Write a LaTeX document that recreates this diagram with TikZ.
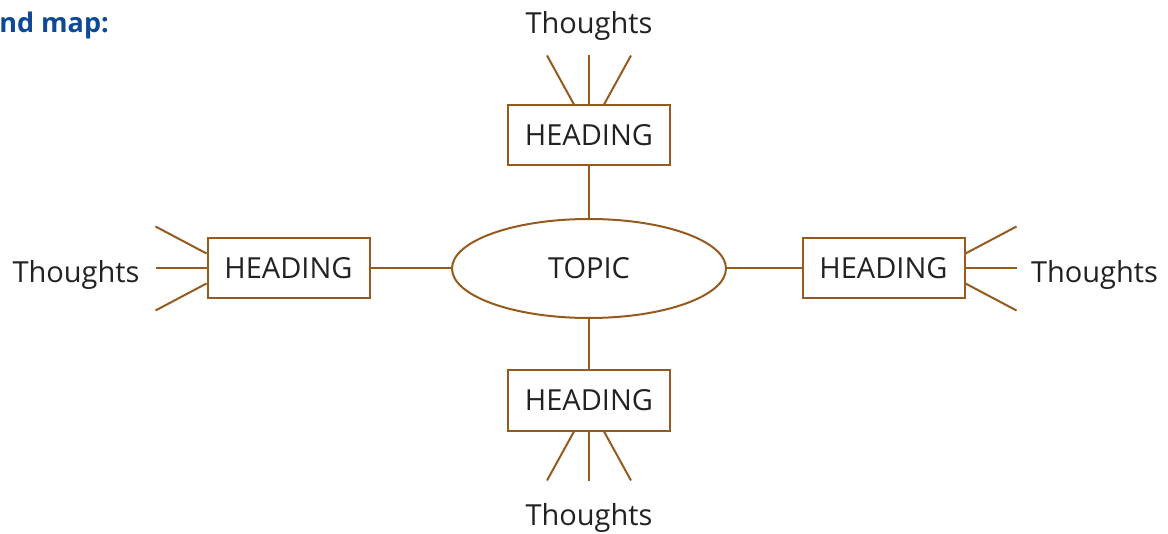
\documentclass[tikz,border=0pt]{standalone}
\usepackage{fontspec}
\setmainfont{Open Sans}
\usepackage{tikz}
\usetikzlibrary{shapes.geometric, positioning, calc}
\definecolor{marronMapa}{RGB}{150,90,30}
\definecolor{azulTitulo}{RGB}{12,74,150}
\definecolor{textoMapa}{RGB}{34,34,34}

\begin{document}
\begin{tikzpicture}[x=0.5pt, y=-0.5pt,
  linea/.style={draw=marronMapa, line width=1pt},
  encabezado/.style={linea, rectangle, minimum width=81pt, minimum height=30pt,
    inner sep=0pt, text=textoMapa, font=\fontsize{14.5}{17}\selectfont},
  topico/.style={linea, ellipse, minimum width=137pt, minimum height=49.5pt,
    inner sep=0pt, text=textoMapa, font=\fontsize{14.5}{17}\selectfont},
  idea/.style={inner sep=0pt, text=textoMapa, font=\fontsize{14.5}{17}\selectfont}]
  \useasboundingbox (0,0) rectangle (1168,534);

  % Titulo (cortado)
  \node[anchor=west, inner sep=0pt, text=azulTitulo,
    font=\fontsize{13.5}{16}\selectfont\bfseries] (titulo) at (-1,25) {nd map:};

  % Tema central y encabezados
  \node[topico] (tema) at (589,268.5) {TOPIC};
  \node[encabezado] (hN) at (589,135.5) {HEADING};
  \node[encabezado] (hS) at (589,400.5) {HEADING};
  \node[encabezado] (hO) at (288.5,268.5) {HEADING};
  \node[encabezado] (hE) at (883.5,268.5) {HEADING};
  \foreach \h in {hN, hS, hO, hE}
    \draw[linea] (\h) -- (tema);

  % Ideas
  \node[idea] (iN) at (589,26) {Thoughts};
  \node[idea] (iS) at (589,518) {Thoughts};
  \node[idea] (iO) at (76,275) {Thoughts};
  \node[idea] (iE) at (1094.5,275) {Thoughts};

  % Rayos hacia las ideas
  \foreach \d in {-1,0,1} {
    \draw[linea] ($(hN.north)+(\d*15,0)$) -- ($(hN.north)+(\d*42,-49)$);
    \draw[linea] ($(hS.south)+(\d*15,0)$) -- ($(hS.south)+(\d*42,49)$);
    \draw[linea] ($(hO.west)+(0,\d*15)$) -- ($(hO.west)+(-51,\d*42)$);
    \draw[linea] ($(hE.east)+(0,\d*15)$) -- ($(hE.east)+(51,\d*42)$);
  }
\end{tikzpicture}
\end{document}
